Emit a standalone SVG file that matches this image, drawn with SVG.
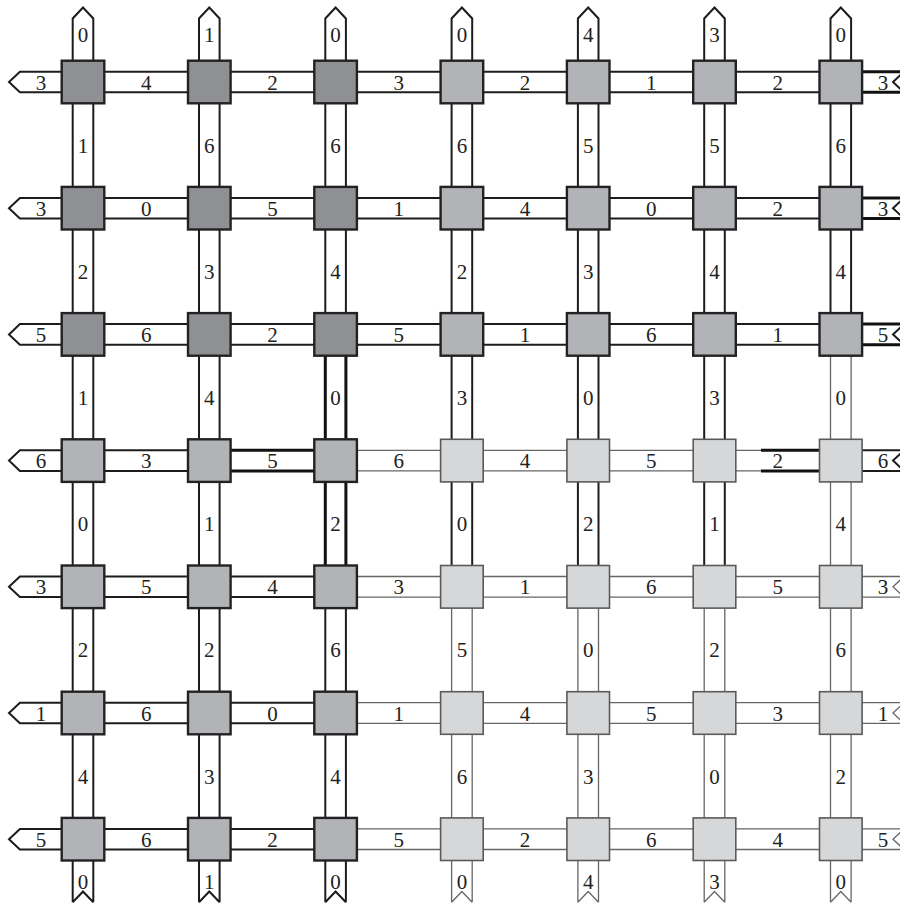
<svg xmlns="http://www.w3.org/2000/svg" width="900" height="904" viewBox="0 0 900 904">
<style>
path{fill:none;stroke-linejoin:miter}
.k{stroke:#1c1c1c;stroke-width:2}
.K{stroke:#111;stroke-width:3}
.g{stroke:#666;stroke-width:1.3}
.D{fill:#8f9094;stroke:#222;stroke-width:2.4}
.M{fill:#b2b3b7;stroke:#222;stroke-width:2.4}
.L{fill:#d6d7d9;stroke:#5a5a5a;stroke-width:1.6}
text{font-family:"Liberation Serif","DejaVu Serif",serif;font-size:21px;fill:#222;text-anchor:middle}
</style>
<rect width="900" height="904" fill="#fff"/>
<g id="connectors">
<!-- row 0 -->
<path class="k" d="M83 71.7H19.9L9 82L19.9 92.3H83"/>
<path class="k" d="M83 71.7H209.3M83 92.3H209.3"/>
<path class="k" d="M209.3 71.7H335.6M209.3 92.3H335.6"/>
<path class="k" d="M335.6 71.7H461.9M335.6 92.3H461.9"/>
<path class="k" d="M461.9 71.7H588.2M461.9 92.3H588.2"/>
<path class="k" d="M588.2 71.7H714.5M588.2 92.3H714.5"/>
<path class="k" d="M714.5 71.7H840.8M714.5 92.3H840.8"/>
<path class="K" d="M840.8 71.7H904M840.8 92.3H904"/>
<path class="k" d="M904 71.7L893 82L904 92.3"/>
<!-- row 1 -->
<path class="k" d="M83 197.9H19.9L9 208.2L19.9 218.5H83"/>
<path class="k" d="M83 197.9H209.3M83 218.5H209.3"/>
<path class="k" d="M209.3 197.9H335.6M209.3 218.5H335.6"/>
<path class="k" d="M335.6 197.9H461.9M335.6 218.5H461.9"/>
<path class="k" d="M461.9 197.9H588.2M461.9 218.5H588.2"/>
<path class="k" d="M588.2 197.9H714.5M588.2 218.5H714.5"/>
<path class="k" d="M714.5 197.9H840.8M714.5 218.5H840.8"/>
<path class="K" d="M840.8 197.9H904M840.8 218.5H904"/>
<path class="k" d="M904 197.9L893 208.2L904 218.5"/>
<!-- row 2 -->
<path class="k" d="M83 324.1H19.9L9 334.4L19.9 344.7H83"/>
<path class="k" d="M83 324.1H209.3M83 344.7H209.3"/>
<path class="k" d="M209.3 324.1H335.6M209.3 344.7H335.6"/>
<path class="k" d="M335.6 324.1H461.9M335.6 344.7H461.9"/>
<path class="k" d="M461.9 324.1H588.2M461.9 344.7H588.2"/>
<path class="k" d="M588.2 324.1H714.5M588.2 344.7H714.5"/>
<path class="k" d="M714.5 324.1H840.8M714.5 344.7H840.8"/>
<path class="K" d="M840.8 324.1H904M840.8 344.7H904"/>
<path class="k" d="M904 324.1L893 334.4L904 344.7"/>
<!-- row 3 -->
<path class="k" d="M83 450.3H19.9L9 460.6L19.9 470.9H83"/>
<path class="k" d="M83 450.3H209.3M83 470.9H209.3"/>
<path class="K" d="M209.3 450.3H335.6M209.3 470.9H335.6"/>
<path class="g" d="M335.6 450.3H461.9M335.6 470.9H461.9"/>
<path class="g" d="M461.9 450.3H588.2M461.9 470.9H588.2"/>
<path class="g" d="M588.2 450.3H714.5M588.2 470.9H714.5"/>
<path class="g" d="M714.5 450.3H761M714.5 470.9H761"/>
<path class="K" d="M761 450.3H840.8M761 470.9H840.8"/>
<path class="k" d="M840.8 450.3H904M840.8 470.9H904M904 450.3L893 460.6L904 470.9"/>
<!-- row 4 -->
<path class="k" d="M83 576.5H19.9L9 586.8L19.9 597.1H83"/>
<path class="k" d="M83 576.5H209.3M83 597.1H209.3"/>
<path class="k" d="M209.3 576.5H335.6M209.3 597.1H335.6"/>
<path class="g" d="M335.6 576.5H461.9M335.6 597.1H461.9"/>
<path class="g" d="M461.9 576.5H588.2M461.9 597.1H588.2"/>
<path class="g" d="M588.2 576.5H714.5M588.2 597.1H714.5"/>
<path class="g" d="M714.5 576.5H840.8M714.5 597.1H840.8"/>
<path class="g" d="M840.8 576.5H904M840.8 597.1H904M904 576.5L893 586.8L904 597.1"/>
<!-- row 5 -->
<path class="k" d="M83 702.7H19.9L9 713L19.9 723.3H83"/>
<path class="k" d="M83 702.7H209.3M83 723.3H209.3"/>
<path class="k" d="M209.3 702.7H335.6M209.3 723.3H335.6"/>
<path class="g" d="M335.6 702.7H461.9M335.6 723.3H461.9"/>
<path class="g" d="M461.9 702.7H588.2M461.9 723.3H588.2"/>
<path class="g" d="M588.2 702.7H714.5M588.2 723.3H714.5"/>
<path class="g" d="M714.5 702.7H840.8M714.5 723.3H840.8"/>
<path class="g" d="M840.8 702.7H904M840.8 723.3H904M904 702.7L893 713L904 723.3"/>
<!-- row 6 -->
<path class="k" d="M83 828.9H19.9L9 839.2L19.9 849.5H83"/>
<path class="k" d="M83 828.9H209.3M83 849.5H209.3"/>
<path class="k" d="M209.3 828.9H335.6M209.3 849.5H335.6"/>
<path class="g" d="M335.6 828.9H461.9M335.6 849.5H461.9"/>
<path class="g" d="M461.9 828.9H588.2M461.9 849.5H588.2"/>
<path class="g" d="M588.2 828.9H714.5M588.2 849.5H714.5"/>
<path class="g" d="M714.5 828.9H840.8M714.5 849.5H840.8"/>
<path class="g" d="M840.8 828.9H904M840.8 849.5H904M904 828.9L893 839.2L904 849.5"/>
<!-- col 0 -->
<path class="k" d="M72.7 82V18.5L83 7.5L93.3 18.5V82"/>
<path class="k" d="M72.7 82V208.2M93.3 82V208.2"/>
<path class="k" d="M72.7 208.2V334.4M93.3 208.2V334.4"/>
<path class="k" d="M72.7 334.4V460.6M93.3 334.4V460.6"/>
<path class="k" d="M72.7 460.6V586.8M93.3 460.6V586.8"/>
<path class="k" d="M72.7 586.8V713M93.3 586.8V713"/>
<path class="k" d="M72.7 713V839.2M93.3 713V839.2"/>
<path class="k" d="M72.7 839.2V902.3M93.3 839.2V902.3M72.7 902.3L83 891.5L93.3 902.3"/>
<!-- col 1 -->
<path class="k" d="M199 82V18.5L209.3 7.5L219.6 18.5V82"/>
<path class="k" d="M199 82V208.2M219.6 82V208.2"/>
<path class="k" d="M199 208.2V334.4M219.6 208.2V334.4"/>
<path class="k" d="M199 334.4V460.6M219.6 334.4V460.6"/>
<path class="k" d="M199 460.6V586.8M219.6 460.6V586.8"/>
<path class="k" d="M199 586.8V713M219.6 586.8V713"/>
<path class="k" d="M199 713V839.2M219.6 713V839.2"/>
<path class="k" d="M199 839.2V902.3M219.6 839.2V902.3M199 902.3L209.3 891.5L219.6 902.3"/>
<!-- col 2 -->
<path class="k" d="M325.3 82V18.5L335.6 7.5L345.9 18.5V82"/>
<path class="k" d="M325.3 82V208.2M345.9 82V208.2"/>
<path class="k" d="M325.3 208.2V334.4M345.9 208.2V334.4"/>
<path class="K" d="M325.3 334.4V460.6M345.9 334.4V460.6"/>
<path class="K" d="M325.3 460.6V586.8M345.9 460.6V586.8"/>
<path class="k" d="M325.3 586.8V713M345.9 586.8V713"/>
<path class="k" d="M325.3 713V839.2M345.9 713V839.2"/>
<path class="k" d="M325.3 839.2V902.3M345.9 839.2V902.3M325.3 902.3L335.6 891.5L345.9 902.3"/>
<!-- col 3 -->
<path class="k" d="M451.6 82V18.5L461.9 7.5L472.2 18.5V82"/>
<path class="k" d="M451.6 82V208.2M472.2 82V208.2"/>
<path class="k" d="M451.6 208.2V334.4M472.2 208.2V334.4"/>
<path class="k" d="M451.6 334.4V460.6M472.2 334.4V460.6"/>
<path class="k" d="M451.6 460.6V586.8M472.2 460.6V586.8"/>
<path class="g" d="M451.6 586.8V713M472.2 586.8V713"/>
<path class="g" d="M451.6 713V839.2M472.2 713V839.2"/>
<path class="g" d="M451.6 839.2V902.3M472.2 839.2V902.3M451.6 902.3L461.9 891.5L472.2 902.3"/>
<!-- col 4 -->
<path class="k" d="M577.9 82V18.5L588.2 7.5L598.5 18.5V82"/>
<path class="k" d="M577.9 82V208.2M598.5 82V208.2"/>
<path class="k" d="M577.9 208.2V334.4M598.5 208.2V334.4"/>
<path class="k" d="M577.9 334.4V460.6M598.5 334.4V460.6"/>
<path class="k" d="M577.9 460.6V586.8M598.5 460.6V586.8"/>
<path class="g" d="M577.9 586.8V713M598.5 586.8V713"/>
<path class="g" d="M577.9 713V839.2M598.5 713V839.2"/>
<path class="g" d="M577.9 839.2V902.3M598.5 839.2V902.3M577.9 902.3L588.2 891.5L598.5 902.3"/>
<!-- col 5 -->
<path class="k" d="M704.2 82V18.5L714.5 7.5L724.8 18.5V82"/>
<path class="k" d="M704.2 82V208.2M724.8 82V208.2"/>
<path class="k" d="M704.2 208.2V334.4M724.8 208.2V334.4"/>
<path class="k" d="M704.2 334.4V460.6M724.8 334.4V460.6"/>
<path class="k" d="M704.2 460.6V586.8M724.8 460.6V586.8"/>
<path class="g" d="M704.2 586.8V713M724.8 586.8V713"/>
<path class="g" d="M704.2 713V839.2M724.8 713V839.2"/>
<path class="g" d="M704.2 839.2V902.3M724.8 839.2V902.3M704.2 902.3L714.5 891.5L724.8 902.3"/>
<!-- col 6 -->
<path class="k" d="M830.5 82V18.5L840.8 7.5L851.1 18.5V82"/>
<path class="k" d="M830.5 82V208.2M851.1 82V208.2"/>
<path class="k" d="M830.5 208.2V334.4M851.1 208.2V334.4"/>
<path class="g" d="M830.5 334.4V460.6M851.1 334.4V460.6"/>
<path class="g" d="M830.5 460.6V586.8M851.1 460.6V586.8"/>
<path class="g" d="M830.5 586.8V713M851.1 586.8V713"/>
<path class="g" d="M830.5 713V839.2M851.1 713V839.2"/>
<path class="g" d="M830.5 839.2V902.3M851.1 839.2V902.3M830.5 902.3L840.8 891.5L851.1 902.3"/>
</g>
<g id="nodes">
<g id="n00"><rect class="D" x="61.7" y="60.7" width="42.6" height="42.6"/></g>
<g id="n01"><rect class="D" x="188" y="60.7" width="42.6" height="42.6"/></g>
<g id="n02"><rect class="D" x="314.3" y="60.7" width="42.6" height="42.6"/></g>
<g id="n03"><rect class="M" x="440.6" y="60.7" width="42.6" height="42.6"/></g>
<g id="n04"><rect class="M" x="566.9" y="60.7" width="42.6" height="42.6"/></g>
<g id="n05"><rect class="M" x="693.2" y="60.7" width="42.6" height="42.6"/></g>
<g id="n06"><rect class="M" x="819.5" y="60.7" width="42.6" height="42.6"/></g>
<g id="n10"><rect class="D" x="61.7" y="186.9" width="42.6" height="42.6"/></g>
<g id="n11"><rect class="D" x="188" y="186.9" width="42.6" height="42.6"/></g>
<g id="n12"><rect class="D" x="314.3" y="186.9" width="42.6" height="42.6"/></g>
<g id="n13"><rect class="M" x="440.6" y="186.9" width="42.6" height="42.6"/></g>
<g id="n14"><rect class="M" x="566.9" y="186.9" width="42.6" height="42.6"/></g>
<g id="n15"><rect class="M" x="693.2" y="186.9" width="42.6" height="42.6"/></g>
<g id="n16"><rect class="M" x="819.5" y="186.9" width="42.6" height="42.6"/></g>
<g id="n20"><rect class="D" x="61.7" y="313.1" width="42.6" height="42.6"/></g>
<g id="n21"><rect class="D" x="188" y="313.1" width="42.6" height="42.6"/></g>
<g id="n22"><rect class="D" x="314.3" y="313.1" width="42.6" height="42.6"/></g>
<g id="n23"><rect class="M" x="440.6" y="313.1" width="42.6" height="42.6"/></g>
<g id="n24"><rect class="M" x="566.9" y="313.1" width="42.6" height="42.6"/></g>
<g id="n25"><rect class="M" x="693.2" y="313.1" width="42.6" height="42.6"/></g>
<g id="n26"><rect class="M" x="819.5" y="313.1" width="42.6" height="42.6"/></g>
<g id="n30"><rect class="M" x="61.7" y="439.3" width="42.6" height="42.6"/></g>
<g id="n31"><rect class="M" x="188" y="439.3" width="42.6" height="42.6"/></g>
<g id="n32"><rect class="M" x="314.3" y="439.3" width="42.6" height="42.6"/></g>
<g id="n33"><rect class="L" x="440.6" y="439.3" width="42.6" height="42.6"/></g>
<g id="n34"><rect class="L" x="566.9" y="439.3" width="42.6" height="42.6"/></g>
<g id="n35"><rect class="L" x="693.2" y="439.3" width="42.6" height="42.6"/></g>
<g id="n36"><rect class="L" x="819.5" y="439.3" width="42.6" height="42.6"/></g>
<g id="n40"><rect class="M" x="61.7" y="565.5" width="42.6" height="42.6"/></g>
<g id="n41"><rect class="M" x="188" y="565.5" width="42.6" height="42.6"/></g>
<g id="n42"><rect class="M" x="314.3" y="565.5" width="42.6" height="42.6"/></g>
<g id="n43"><rect class="L" x="440.6" y="565.5" width="42.6" height="42.6"/></g>
<g id="n44"><rect class="L" x="566.9" y="565.5" width="42.6" height="42.6"/></g>
<g id="n45"><rect class="L" x="693.2" y="565.5" width="42.6" height="42.6"/></g>
<g id="n46"><rect class="L" x="819.5" y="565.5" width="42.6" height="42.6"/></g>
<g id="n50"><rect class="M" x="61.7" y="691.7" width="42.6" height="42.6"/></g>
<g id="n51"><rect class="M" x="188" y="691.7" width="42.6" height="42.6"/></g>
<g id="n52"><rect class="M" x="314.3" y="691.7" width="42.6" height="42.6"/></g>
<g id="n53"><rect class="L" x="440.6" y="691.7" width="42.6" height="42.6"/></g>
<g id="n54"><rect class="L" x="566.9" y="691.7" width="42.6" height="42.6"/></g>
<g id="n55"><rect class="L" x="693.2" y="691.7" width="42.6" height="42.6"/></g>
<g id="n56"><rect class="L" x="819.5" y="691.7" width="42.6" height="42.6"/></g>
<g id="n60"><rect class="M" x="61.7" y="817.9" width="42.6" height="42.6"/></g>
<g id="n61"><rect class="M" x="188" y="817.9" width="42.6" height="42.6"/></g>
<g id="n62"><rect class="M" x="314.3" y="817.9" width="42.6" height="42.6"/></g>
<g id="n63"><rect class="L" x="440.6" y="817.9" width="42.6" height="42.6"/></g>
<g id="n64"><rect class="L" x="566.9" y="817.9" width="42.6" height="42.6"/></g>
<g id="n65"><rect class="L" x="693.2" y="817.9" width="42.6" height="42.6"/></g>
<g id="n66"><rect class="L" x="819.5" y="817.9" width="42.6" height="42.6"/></g>
</g>
<g id="labels">
<text x="41" y="89.5">3</text><text x="146.15" y="89.5">4</text><text x="272.45" y="89.5">2</text><text x="398.75" y="89.5">3</text><text x="525.05" y="89.5">2</text><text x="651.35" y="89.5">1</text><text x="777.65" y="89.5">2</text><text x="883" y="89.5">3</text>
<text x="41" y="215.7">3</text><text x="146.15" y="215.7">0</text><text x="272.45" y="215.7">5</text><text x="398.75" y="215.7">1</text><text x="525.05" y="215.7">4</text><text x="651.35" y="215.7">0</text><text x="777.65" y="215.7">2</text><text x="883" y="215.7">3</text>
<text x="41" y="341.9">5</text><text x="146.15" y="341.9">6</text><text x="272.45" y="341.9">2</text><text x="398.75" y="341.9">5</text><text x="525.05" y="341.9">1</text><text x="651.35" y="341.9">6</text><text x="777.65" y="341.9">1</text><text x="883" y="341.9">5</text>
<text x="41" y="468.1">6</text><text x="146.15" y="468.1">3</text><text x="272.45" y="468.1">5</text><text x="398.75" y="468.1">6</text><text x="525.05" y="468.1">4</text><text x="651.35" y="468.1">5</text><text x="777.65" y="468.1">2</text><text x="883" y="468.1">6</text>
<text x="41" y="594.3">3</text><text x="146.15" y="594.3">5</text><text x="272.45" y="594.3">4</text><text x="398.75" y="594.3">3</text><text x="525.05" y="594.3">1</text><text x="651.35" y="594.3">6</text><text x="777.65" y="594.3">5</text><text x="883" y="594.3">3</text>
<text x="41" y="720.5">1</text><text x="146.15" y="720.5">6</text><text x="272.45" y="720.5">0</text><text x="398.75" y="720.5">1</text><text x="525.05" y="720.5">4</text><text x="651.35" y="720.5">5</text><text x="777.65" y="720.5">3</text><text x="883" y="720.5">1</text>
<text x="41" y="846.7">5</text><text x="146.15" y="846.7">6</text><text x="272.45" y="846.7">2</text><text x="398.75" y="846.7">5</text><text x="525.05" y="846.7">2</text><text x="651.35" y="846.7">6</text><text x="777.65" y="846.7">4</text><text x="883" y="846.7">5</text>
<text x="83" y="42">0</text><text x="83" y="152.6">1</text><text x="83" y="278.8">2</text><text x="83" y="405">1</text><text x="83" y="531.2">0</text><text x="83" y="657.4">2</text><text x="83" y="783.6">4</text><text x="83" y="889">0</text>
<text x="209.3" y="42">1</text><text x="209.3" y="152.6">6</text><text x="209.3" y="278.8">3</text><text x="209.3" y="405">4</text><text x="209.3" y="531.2">1</text><text x="209.3" y="657.4">2</text><text x="209.3" y="783.6">3</text><text x="209.3" y="889">1</text>
<text x="335.6" y="42">0</text><text x="335.6" y="152.6">6</text><text x="335.6" y="278.8">4</text><text x="335.6" y="405">0</text><text x="335.6" y="531.2">2</text><text x="335.6" y="657.4">6</text><text x="335.6" y="783.6">4</text><text x="335.6" y="889">0</text>
<text x="461.9" y="42">0</text><text x="461.9" y="152.6">6</text><text x="461.9" y="278.8">2</text><text x="461.9" y="405">3</text><text x="461.9" y="531.2">0</text><text x="461.9" y="657.4">5</text><text x="461.9" y="783.6">6</text><text x="461.9" y="889">0</text>
<text x="588.2" y="42">4</text><text x="588.2" y="152.6">5</text><text x="588.2" y="278.8">3</text><text x="588.2" y="405">0</text><text x="588.2" y="531.2">2</text><text x="588.2" y="657.4">0</text><text x="588.2" y="783.6">3</text><text x="588.2" y="889">4</text>
<text x="714.5" y="42">3</text><text x="714.5" y="152.6">5</text><text x="714.5" y="278.8">4</text><text x="714.5" y="405">3</text><text x="714.5" y="531.2">1</text><text x="714.5" y="657.4">2</text><text x="714.5" y="783.6">0</text><text x="714.5" y="889">3</text>
<text x="840.8" y="42">0</text><text x="840.8" y="152.6">6</text><text x="840.8" y="278.8">4</text><text x="840.8" y="405">0</text><text x="840.8" y="531.2">4</text><text x="840.8" y="657.4">6</text><text x="840.8" y="783.6">2</text><text x="840.8" y="889">0</text>
</g>
</svg>
